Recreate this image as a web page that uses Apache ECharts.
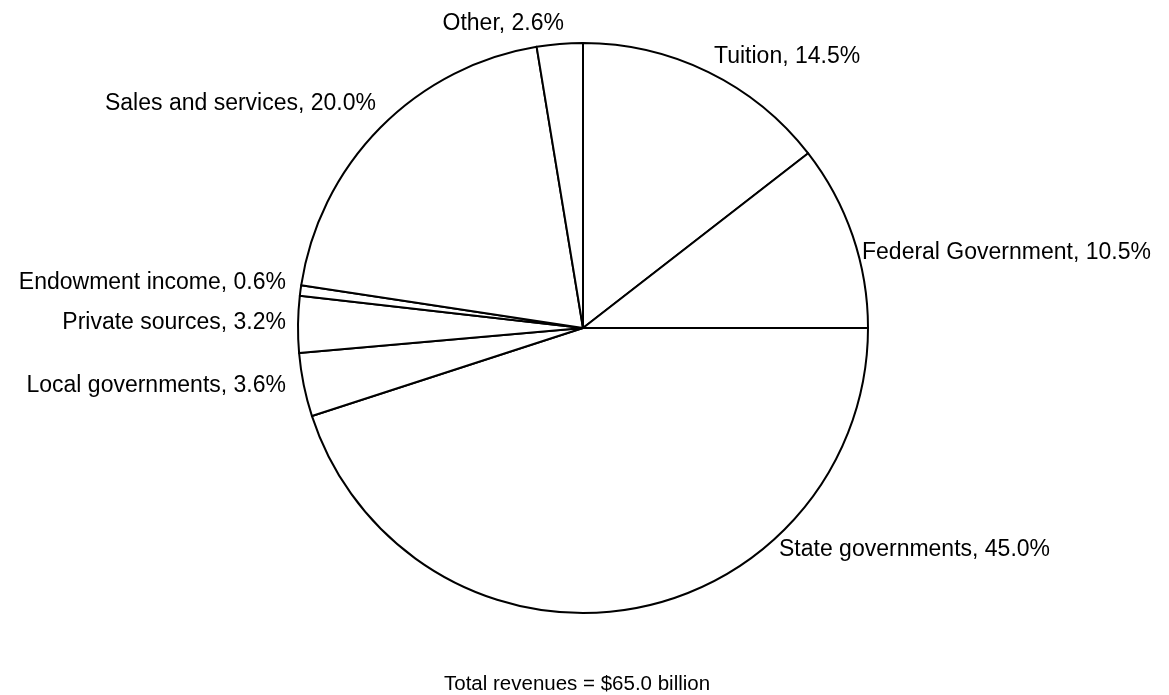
<!DOCTYPE html>
<html>
<head>
<meta charset="utf-8">
<title>Revenues</title>
<script src="https://cdn.jsdelivr.net/npm/echarts@6/dist/echarts.min.js"></script>
<style>
  html, body { margin: 0; padding: 0; background: #fff; }
  #chart { width: 1169px; height: 695px; }
</style>
</head>
<body>
<div id="chart"></div>
<script>
// Revenue sources, clockwise from 12 o'clock
const categories = ['Tuition', 'Federal Government', 'State governments', 'Local governments',
                    'Private sources', 'Endowment income', 'Sales and services', 'Other'];
const shares = [14.5, 10.5, 45.0, 3.6, 3.2, 0.6, 20.0, 2.6];
const totalText = 'Total revenues = $65.0 billion';

// Where each slice's caption sits (anchor point and which side it hangs from)
const labelAnchors = [
  { x: 714, y: 57,  align: 'left'  },
  { x: 862, y: 253, align: 'left'  },
  { x: 779, y: 550, align: 'left'  },
  { x: 286, y: 386, align: 'right' },
  { x: 286, y: 323, align: 'right' },
  { x: 286, y: 283, align: 'right' },
  { x: 376, y: 104, align: 'right' },
  { x: 564, y: 24,  align: 'right' }
];

const FONT = '"Liberation Sans", Arial, Helvetica, sans-serif';

const chart = echarts.init(document.getElementById('chart'), null, { renderer: 'canvas' });

chart.setOption({
  backgroundColor: '#ffffff',
  animation: false,
  title: {
    text: totalText,
    left: 439,
    top: 669,
    textStyle: { fontFamily: FONT, fontSize: 20.5, fontWeight: 'normal', color: '#000' }
  },
  series: [{
    type: 'pie',
    center: [583, 328],
    radius: 285,
    startAngle: 90,
    clockwise: true,
    avoidLabelOverlap: false,
    itemStyle: { color: '#ffffff', borderColor: '#000000', borderWidth: 2 },
    emphasis: { disabled: true },
    label: {
      show: true,
      position: 'outside',
      fontFamily: FONT,
      fontSize: 23,
      color: '#000',
      formatter: p => p.name + ', ' + p.value.toFixed(1) + '%'
    },
    labelLine: { show: false },
    labelLayout: params => {
      const a = labelAnchors[params.dataIndex];
      return { x: a.x, y: a.y, align: a.align, verticalAlign: 'middle', hideOverlap: false, moveOverlap: null };
    },
    data: categories.map((name, i) => ({ name, value: shares[i] }))
  }]
});
</script>
</body>
</html>
